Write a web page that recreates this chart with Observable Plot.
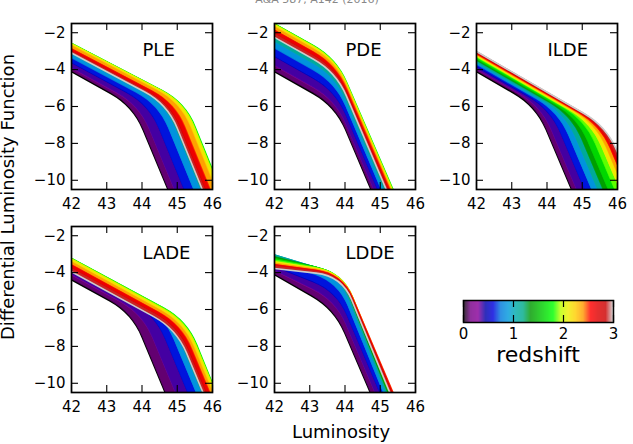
<!DOCTYPE html>
<html><head><meta charset="utf-8">
<script src="https://cdn.jsdelivr.net/npm/d3@7"></script>
<script src="https://cdn.jsdelivr.net/npm/@observablehq/plot@0.6"></script>
<style>
html,body{margin:0;padding:0;background:#fff;}
#fig{position:relative;width:633px;height:444px;overflow:hidden;font-family:"DejaVu Sans",sans-serif;color:#000;background:#fff;}
.abs{position:absolute;}
.txt{position:absolute;white-space:nowrap;line-height:1;}
</style></head>
<body><div id="fig"></div>
<script>
// ---------------- data ----------------
const redshifts = [0, 0.25, 0.5, 0.75, 1, 1.25, 1.5, 1.75, 2, 2.25, 2.5, 2.75, 3];
const lumStart = 42;     // log L at which y42 is read
const phiFloor = -10.5;  // log phi at which endL is read

// PLE
const pleY42   = [-4.07, -3.90, -3.61, -3.34, -3.13, -2.95, -2.74, -2.58, -2.61, -2.71, -2.88, -3.02, -3.10];
const pleKneeL = [43.77, 43.94, 44.22, 44.49, 44.69, 44.87, 45.07, 45.23, 45.20, 45.10, 44.94, 44.80, 44.72];
const pleKneeY = [-5.95, -5.93, -5.90, -5.88, -5.86, -5.84, -5.82, -5.80, -5.80, -5.81, -5.83, -5.85, -5.86];
const pleEndL  = [44.76, 44.93, 45.21, 45.48, 45.68, 45.86, 46.06, 46.22, 46.19, 46.09, 45.93, 45.79, 45.71];
// PDE
const pdeY42   = [-4.07, -3.77, -3.27, -2.82, -2.47, -2.12, -1.82, -1.52, -1.57, -1.69, -1.87, -2.07, -2.25];
const pdeKneeL = [43.75, 43.75, 43.75, 43.75, 43.75, 43.75, 43.75, 43.75, 43.75, 43.75, 43.75, 43.75, 43.75];
const pdeKneeY = [-5.95, -5.65, -5.15, -4.70, -4.35, -4.00, -3.70, -3.40, -3.45, -3.57, -3.75, -3.95, -4.13];
const pdeEndL  = [44.76, 44.83, 44.94, 45.04, 45.12, 45.19, 45.26, 45.36, 45.34, 45.31, 45.27, 45.22, 45.17];
// ILDE
const ildeY42   = [-4.07, -3.95, -3.82, -3.70, -3.60, -3.50, -3.42, -3.34, -3.27, -3.20, -3.14, -3.08, -3.02];
const ildeKneeL = [43.71, 43.85, 44.11, 44.34, 44.54, 44.71, 44.88, 45.10, 45.27, 45.41, 45.53, 45.61, 45.69];
const ildeKneeY = [-5.95, -5.98, -6.14, -6.27, -6.39, -6.48, -6.59, -6.75, -6.87, -6.95, -7.02, -7.05, -7.08];
const ildeEndL  = [44.72, 44.85, 45.08, 45.28, 45.45, 45.60, 45.75, 45.93, 46.08, 46.20, 46.30, 46.38, 46.45];
// LADE
const ladeY42   = [-4.35, -4.10, -3.78, -3.57, -3.45, -3.35, -3.28, -3.23, -3.27, -3.42, -3.59, -3.78, -3.95];
const ladeKneeL = [43.74, 44.03, 44.39, 44.64, 44.81, 44.96, 45.09, 45.27, 45.25, 45.19, 45.12, 45.04, 44.98];
const ladeKneeY = [-6.18, -6.23, -6.28, -6.33, -6.38, -6.44, -6.50, -6.60, -6.66, -6.74, -6.84, -6.95, -7.06];
const ladeEndL  = [44.68, 44.96, 45.31, 45.55, 45.71, 45.84, 45.96, 46.10, 46.08, 46.01, 45.92, 45.81, 45.73];
// LDDE
const lddeY42   = [-4.07, -3.88, -3.65, -3.35, -3.05, -3.15, -3.25, -3.33, -3.42, -3.50, -3.58, -3.66, -3.78];
const lddeKneeL = [43.72, 43.75, 43.78, 43.82, 43.85, 43.88, 43.90, 43.92, 43.93, 43.93, 43.93, 43.92, 43.91];
const lddeKneeY = [-5.95, -5.50, -5.00, -4.50, -4.12, -4.05, -4.00, -3.98, -4.00, -4.04, -4.08, -4.12, -4.18];
const lddeEndL  = [44.74, 44.86, 45.00, 45.10, 45.17, 45.22, 45.25, 45.28, 45.31, 45.33, 45.36, 45.32, 45.27];

const panelNames = ["PLE", "PDE", "ILDE", "LADE", "LDDE"];
const xTicks = [42, 43, 44, 45, 46];
const yTicks = [-2, -4, -6, -8, -10];
const colorbarTicks = [0, 1, 2, 3];

// ---------------- styles ----------------
const cmapColors = ["#000000","#770088","#880099","#0000aa","#0000dd","#0077dd","#0099dd","#00aaaa","#00aa88","#009900",
  "#00bb00","#00dd00","#00ff00","#bbff00","#eeee00","#ffcc00","#ff9900","#ff0000","#dd0000","#cc0000","#cccccc"];
const cmapDomain = cmapColors.map((c, i) => 3 * i / (cmapColors.length - 1));
const colorScale = {type: "linear", domain: cmapDomain, range: cmapColors, interpolate: "rgb"};
const FONT = "DejaVu Sans, sans-serif";
const FW = 141, FH = 166;
const M = {l: 40, r: 12, t: 6, b: 26};
const layout = {PLE: [71, 23], PDE: [274, 23], ILDE: [476, 23], LADE: [71, 226], LDDE: [274, 226]};
const series = {
  PLE:  {y42: pleY42,  kneeL: pleKneeL,  kneeY: pleKneeY,  endL: pleEndL},
  PDE:  {y42: pdeY42,  kneeL: pdeKneeL,  kneeY: pdeKneeY,  endL: pdeEndL},
  ILDE: {y42: ildeY42, kneeL: ildeKneeL, kneeY: ildeKneeY, endL: ildeEndL},
  LADE: {y42: ladeY42, kneeL: ladeKneeL, kneeY: ladeKneeY, endL: ladeEndL},
  LDDE: {y42: lddeY42, kneeL: lddeKneeL, kneeY: lddeKneeY, endL: lddeEndL}
};
const minus = d => (d < 0 ? "\u2212" : "") + Math.abs(d);

// polyline with rounded corners (rendering style only)
const R = 26;
function rounded(context) {
  let pts, line;
  return {
    areaStart() { line = 0; },
    areaEnd() { line = NaN; },
    lineStart() { pts = []; },
    point(x, y) { pts.push([+x, +y]); },
    lineEnd() {
      const n = pts.length;
      if (n) {
        line ? context.lineTo(pts[0][0], pts[0][1]) : context.moveTo(pts[0][0], pts[0][1]);
        for (let i = 1; i < n - 1; ++i) {
          const [ax, ay] = pts[i - 1], [bx, by] = pts[i], [cx, cy] = pts[i + 1];
          const d1 = Math.hypot(bx - ax, by - ay), d2 = Math.hypot(cx - bx, cy - by);
          const r = Math.min(R, d1 * 0.45, d2 * 0.45);
          if (!(r > 0)) { context.lineTo(bx, by); continue; }
          context.lineTo(bx + (ax - bx) * r / d1, by + (ay - by) * r / d1);
          context.quadraticCurveTo(bx, by, bx + (cx - bx) * r / d2, by + (cy - by) * r / d2);
        }
        if (n > 1) context.lineTo(pts[n - 1][0], pts[n - 1][1]);
      }
      if (line || (line !== 0 && line === line && n === 1)) context.closePath();
      line = 1 - line;
    }
  };
}

const fig = document.getElementById("fig");

function addPanel(name) {
  const p = series[name];
  const pts = i => [[lumStart, p.y42[i]], [p.kneeL[i], p.kneeY[i]], [p.endL[i], phiFloor]];
  const marks = [];
  for (let i = 0; i < redshifts.length; i++) {
    const a = pts(i);
    if (i > 0) {
      const b = pts(i - 1);
      const zm = (redshifts[i - 1] + redshifts[i]) / 2;
      const band = a.map((q, k) => ({x1: q[0], y1: q[1], x2: b[k][0], y2: b[k][1], zc: zm}));
      marks.push(Plot.area(band, {x1: "x1", y1: "y1", x2: "x2", y2: "y2", fill: "zc", stroke: "zc", strokeWidth: 0.6, curve: rounded, clip: true}));
    }
    const zi = redshifts[i];
    marks.push(Plot.line(a, {x: d => d[0], y: d => d[1], stroke: () => zi, strokeWidth: i === 0 ? 3 : 1.6, curve: rounded, clip: true}));
  }
  marks.push(
    Plot.ruleY(yTicks, {y: d => d, insetRight: FW - 7, strokeWidth: 1.1}),
    Plot.ruleY(yTicks, {y: d => d, insetLeft: FW - 7, strokeWidth: 1.1}),
    Plot.ruleX(xTicks, {x: d => d, insetBottom: FH - 7, strokeWidth: 1.1}),
    Plot.ruleX(xTicks, {x: d => d, insetTop: FH - 7, strokeWidth: 1.1}),
    Plot.axisX({ticks: xTicks, tickSize: 0, tickPadding: 9, label: null, tickFormat: d => String(d)}),
    Plot.axisY({ticks: yTicks, tickSize: 0, tickPadding: 6, label: null, tickFormat: minus}),
    Plot.frame({stroke: "black", strokeWidth: 1.7}),
    Plot.text([name], {frameAnchor: "top-left", dx: 71, dy: 20, text: d => d, fontSize: 18, textAnchor: "start", lineAnchor: "top", fill: "black"})
  );
  const svg = Plot.plot({
    width: FW + M.l + M.r, height: FH + M.t + M.b,
    marginLeft: M.l, marginRight: M.r, marginTop: M.t, marginBottom: M.b,
    x: {domain: [42, 46]}, y: {domain: [-10.5, -1.5]},
    color: colorScale,
    style: {fontFamily: FONT, fontSize: "15px", color: "black", background: "transparent", overflow: "visible"},
    marks
  });
  const wrap = document.createElement("div");
  wrap.className = "abs";
  wrap.style.left = (layout[name][0] - M.l) + "px";
  wrap.style.top = (layout[name][1] - M.t) + "px";
  wrap.appendChild(svg);
  fig.appendChild(wrap);
}
panelNames.forEach(addPanel);

// colorbar
const cbStep = 0.02;
const cbSlices = d3.range(0, 3, cbStep);
const cb = Plot.plot({
  width: 150 + 40, height: 22 + 5 + 23,
  marginLeft: 20, marginRight: 20, marginTop: 5, marginBottom: 23,
  x: {domain: [0, 3]}, y: {domain: [0, 1], axis: null},
  color: colorScale,
  style: {fontFamily: FONT, fontSize: "15px", color: "black", background: "transparent", overflow: "visible"},
  marks: [
    Plot.rect(cbSlices, {x1: d => d, x2: d => d + cbStep + 0.004, y1: 0, y2: 1, fill: d => d + cbStep / 2, fillOpacity: 0.78}),
    Plot.ruleX(colorbarTicks, {x: d => d, insetBottom: 15, strokeWidth: 1.2}),
    Plot.ruleX(colorbarTicks, {x: d => d, insetTop: 15, strokeWidth: 1.2}),
    Plot.axisX({ticks: colorbarTicks, tickSize: 0, tickPadding: 6, label: null, tickFormat: d => String(d)}),
    Plot.frame({stroke: "black", strokeWidth: 1.5})
  ]
});
const cbWrap = document.createElement("div");
cbWrap.className = "abs";
cbWrap.style.left = (463 - 20) + "px";
cbWrap.style.top = (300 - 5) + "px";
cbWrap.appendChild(cb);
fig.appendChild(cbWrap);

// texts
function addText(str, css) {
  const d = document.createElement("div");
  d.className = "txt";
  d.textContent = str;
  Object.assign(d.style, css);
  fig.appendChild(d);
}
addText("A&A 587, A142 (2016)", {left: "317px", top: "-6px", transform: "translateX(-50%)", fontSize: "11px", color: "#888"});
addText("redshift", {left: "538px", top: "346px", lineHeight: "0.8", transform: "translateX(-50%)", fontSize: "22px"});
addText("Luminosity", {left: "341px", top: "423px", transform: "translateX(-50%)", fontSize: "18px"});
addText("Differential Luminosity Function", {left: "8px", top: "197px", transform: "translate(-50%,-50%) rotate(-90deg)", fontSize: "18px"});
</script></body></html>
